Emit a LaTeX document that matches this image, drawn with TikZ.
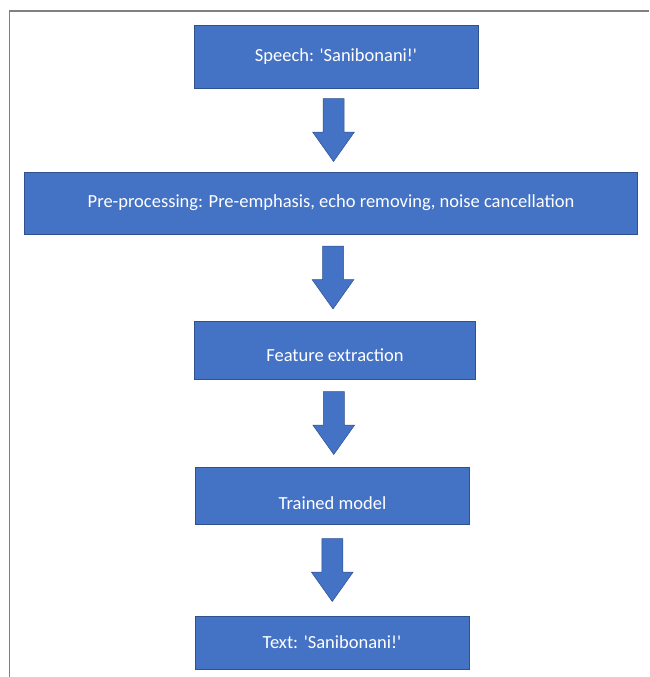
\documentclass[tikz,border=0pt]{standalone}
\usepackage{fontspec}
\setmainfont{Carlito}
\usepackage{xcolor}
\usetikzlibrary{calc,positioning}
\definecolor{officeblue}{HTML}{4472C4}
\definecolor{officeedge}{HTML}{2F528F}
\definecolor{framegray}{HTML}{808080}
\tikzset{
  node distance=84pt,
  box/.style={fill=officeblue,draw=officeedge,line width=0.8pt,
              text=white,font=\fontsize{18.5}{22}\selectfont,inner sep=0pt},
  arrowbody/.style={fill=officeblue,draw=officeedge,line width=0.5pt}
}
% block arrow between two stacked boxes
\newcommand{\blockarrow}[2]{%
  \path ($(#1.south)!0.5!(#2.north)$) coordinate (mid#1);
  \filldraw[arrowbody] ($(mid#1)+(-10.5,-31.5)$) -- ($(mid#1)+(10.5,-31.5)$)
     -- ($(mid#1)+(10.5,2.2)$) -- ($(mid#1)+(20.8,2.2)$) -- ($(mid#1)+(0,31.5)$)
     -- ($(mid#1)+(-20.8,2.2)$) -- ($(mid#1)+(-10.5,2.2)$) -- cycle;
}

\begin{document}
\begin{tikzpicture}[x=1pt,y=-1pt]
          \useasboundingbox (0,0) rectangle (649,677);
          % frame
          \draw[framegray,line width=1.3pt] (9.5,677) -- (9.5,11) -- (649,11);

          \begin{scope}[every node/.style={box}]
              \node[minimum width=284pt,minimum height=63pt] (speech) at (336,56.5)
                    {Speech: \textquotesingle Sanibonani!\textquotesingle};
              \node[minimum width=613pt,minimum height=62pt,
                    below=83.2pt of speech,xshift=-5pt] (prep)
                    {Pre-processing: Pre-emphasis, echo removing, noise cancellation};
              \node[minimum width=281pt,minimum height=58pt,
                    below=86.2pt of prep,xshift=4pt] (feat)
                    {\raisebox{-11.7pt}[0pt][0pt]{Feature extraction}};
              \node[minimum width=274pt,minimum height=57pt,
                    below=87.2pt of feat,xshift=-2.5pt] (model)
                    {\raisebox{-14.3pt}[0pt][0pt]{Trained model}};
              \node[minimum width=274pt,minimum height=53pt,
                    below=91.2pt of model,xshift=-0.5pt] (text)
                    {Text: \textquotesingle Sanibonani!\textquotesingle};
          \end{scope}

          \begin{scope}
              \blockarrow{speech}{prep}
              \blockarrow{prep}{feat}
              \blockarrow{feat}{model}
              \blockarrow{model}{text}
          \end{scope}
\end{tikzpicture}
\end{document}
